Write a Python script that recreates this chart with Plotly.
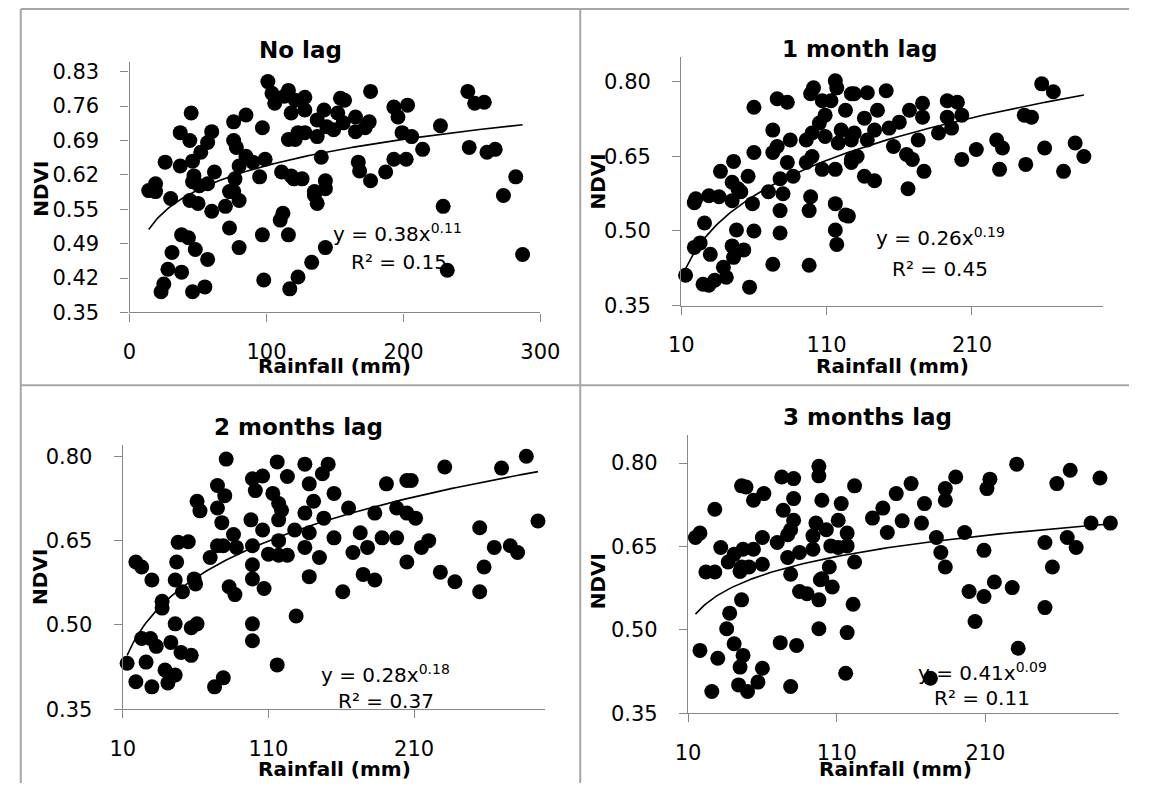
import numpy as np
import plotly.graph_objects as go

W, H = 1149, 795

# ---------------- data: rainfall (mm) vs NDVI ----------------
x_lag0 = [101, 45, 85, 76, 37, 44, 60, 57, 52, 26, 37, 46, 76, 78, 97, 106, 104, 116, 118, 116,
          123, 19, 14, 47, 46, 62, 57, 77, 73, 85, 90, 99, 111, 120, 95, 80, 19, 30, 44, 50,
          51, 60, 70, 76, 80, 73, 80, 97, 112, 110, 116, 38, 43, 31, 48, 57, 28, 38, 25, 23,
          46, 55, 98, 117, 123, 176, 247, 252, 259, 227, 193, 203, 196, 199, 206, 214, 248, 261, 267, 282,
          273, 193, 202, 187, 167, 168, 176, 140, 143, 135, 154, 157, 142, 165, 175, 172, 165, 156, 144, 137,
          128, 121, 113, 128, 121, 128, 137, 149, 152, 118, 126, 229, 287, 232, 143, 133, 137, 135, 143]
y_lag0 = [0.820, 0.756, 0.752, 0.738, 0.716, 0.700, 0.718, 0.696, 0.676, 0.656, 0.648, 0.658, 0.700, 0.686, 0.726, 0.776, 0.796, 0.802, 0.756, 0.702,
          0.716, 0.612, 0.598, 0.628, 0.616, 0.636, 0.612, 0.622, 0.596, 0.668, 0.656, 0.662, 0.636, 0.622, 0.626, 0.648, 0.596, 0.582, 0.578, 0.572,
          0.608, 0.556, 0.566, 0.596, 0.578, 0.522, 0.482, 0.508, 0.552, 0.538, 0.508, 0.508, 0.502, 0.472, 0.478, 0.458, 0.438, 0.432, 0.408, 0.392,
          0.392, 0.402, 0.416, 0.398, 0.422, 0.800, 0.800, 0.776, 0.778, 0.730, 0.768, 0.772, 0.748, 0.716, 0.708, 0.682, 0.686, 0.676, 0.682, 0.626,
          0.588, 0.662, 0.662, 0.636, 0.656, 0.638, 0.618, 0.666, 0.618, 0.596, 0.786, 0.782, 0.762, 0.748, 0.738, 0.726, 0.718, 0.736, 0.728, 0.742,
          0.762, 0.782, 0.790, 0.788, 0.702, 0.716, 0.708, 0.722, 0.756, 0.628, 0.622, 0.566, 0.468, 0.436, 0.482, 0.452, 0.572, 0.588, 0.602]

x_lag1 = [116, 101, 99, 107, 113, 117, 127, 123, 76, 83, 60, 109, 105, 73, 76, 85, 96, 100, 109, 120,
          118, 127, 60, 46, 37, 56, 45, 49, 73, 83, 87, 78, 100, 96, 107, 116, 127, 20, 29, 36,
          19, 45, 51, 59, 70, 80, 78, 99, 98, 116, 123, 26, 48, 60, 78, 116, 117, 19, 23, 30,
          45, 53, 46, 39, 41, 13, 25, 29, 33, 57, 73, 98, 258, 266, 246, 251, 227, 231, 213, 203,
          229, 247, 260, 273, 281, 287, 193, 200, 203, 193, 196, 187, 176, 167, 176, 173, 160, 153, 156, 165,
          169, 177, 166, 151, 138, 129, 145, 136, 143, 129, 138, 131, 136, 143, 127, 125]
y_lag1 = [0.802, 0.788, 0.776, 0.762, 0.762, 0.788, 0.776, 0.743, 0.766, 0.759, 0.749, 0.733, 0.717, 0.703, 0.670, 0.683, 0.683, 0.697, 0.690, 0.703,
          0.677, 0.683, 0.658, 0.640, 0.620, 0.610, 0.598, 0.585, 0.658, 0.638, 0.610, 0.605, 0.650, 0.638, 0.624, 0.624, 0.638, 0.565, 0.571, 0.569,
          0.557, 0.561, 0.579, 0.555, 0.579, 0.575, 0.541, 0.569, 0.541, 0.555, 0.532, 0.516, 0.502, 0.500, 0.496, 0.502, 0.473, 0.467, 0.476, 0.453,
          0.470, 0.462, 0.447, 0.427, 0.407, 0.411, 0.393, 0.391, 0.401, 0.387, 0.433, 0.431, 0.796, 0.780, 0.733, 0.729, 0.683, 0.667, 0.664, 0.644,
          0.624, 0.634, 0.667, 0.620, 0.677, 0.650, 0.762, 0.759, 0.733, 0.729, 0.707, 0.697, 0.757, 0.743, 0.729, 0.683, 0.719, 0.707, 0.670, 0.654,
          0.644, 0.620, 0.585, 0.782, 0.778, 0.776, 0.743, 0.727, 0.703, 0.697, 0.683, 0.650, 0.610, 0.601, 0.644, 0.530]

x_lag2 = [81, 116, 99, 106, 101, 75, 80, 61, 63, 75, 78, 86, 98, 106, 117, 117, 123, 113, 119, 128,
          117, 48, 55, 47, 75, 79, 70, 88, 99, 99, 110, 117, 123, 19, 23, 30, 46, 59, 51, 60,
          37, 37, 83, 87, 99, 107, 46, 57, 61, 99, 99, 129, 23, 29, 33, 43, 50, 57, 13, 26,
          39, 46, 19, 30, 41, 73, 79, 116, 135, 147, 151, 138, 141, 155, 135, 148, 165, 138, 155, 135,
          145, 168, 138, 161, 173, 178, 183, 175, 183, 188, 191, 205, 208, 198, 205, 198, 211, 205, 215, 220,
          231, 228, 238, 255, 258, 255, 265, 270, 276, 281, 287, 295]
y_lag2 = [0.795, 0.790, 0.760, 0.765, 0.739, 0.748, 0.730, 0.720, 0.703, 0.708, 0.682, 0.661, 0.687, 0.669, 0.687, 0.716, 0.764, 0.734, 0.704, 0.669,
          0.650, 0.647, 0.648, 0.612, 0.641, 0.641, 0.620, 0.638, 0.641, 0.607, 0.626, 0.624, 0.624, 0.612, 0.603, 0.580, 0.580, 0.582, 0.559, 0.573,
          0.542, 0.530, 0.568, 0.554, 0.582, 0.565, 0.502, 0.495, 0.502, 0.502, 0.472, 0.516, 0.476, 0.476, 0.462, 0.469, 0.451, 0.446, 0.432, 0.434,
          0.420, 0.411, 0.399, 0.390, 0.397, 0.390, 0.406, 0.429, 0.786, 0.769, 0.786, 0.751, 0.720, 0.734, 0.699, 0.690, 0.708, 0.664, 0.655, 0.638,
          0.620, 0.629, 0.586, 0.559, 0.664, 0.638, 0.699, 0.590, 0.580, 0.655, 0.751, 0.757, 0.757, 0.708, 0.699, 0.655, 0.690, 0.612, 0.638, 0.650,
          0.781, 0.594, 0.577, 0.673, 0.603, 0.559, 0.638, 0.779, 0.641, 0.629, 0.800, 0.685]

x_lag3 = [98, 98, 73, 81, 46, 49, 61, 54, 81, 28, 74, 100, 122, 113, 81, 79, 96, 94, 103, 111,
          117, 15, 18, 32, 60, 70, 77, 47, 41, 54, 60, 37, 46, 51, 85, 77, 94, 106, 111, 117,
          122, 22, 28, 79, 100, 105, 45, 85, 90, 98, 99, 107, 121, 46, 38, 36, 41, 47, 45, 60,
          57, 44, 50, 26, 18, 30, 72, 83, 79, 98, 117, 116, 231, 267, 258, 287, 213, 211, 190, 183,
          183, 169, 160, 150, 141, 134, 144, 154, 167, 177, 180, 183, 196, 209, 216, 209, 199, 203, 228, 232,
          173, 250, 255, 265, 271, 281, 294, 250]
y_lag3 = [0.794, 0.777, 0.775, 0.772, 0.759, 0.757, 0.745, 0.733, 0.736, 0.717, 0.715, 0.733, 0.759, 0.727, 0.697, 0.680, 0.692, 0.669, 0.680, 0.697,
          0.674, 0.666, 0.674, 0.648, 0.666, 0.657, 0.671, 0.645, 0.636, 0.645, 0.618, 0.622, 0.613, 0.613, 0.639, 0.630, 0.645, 0.651, 0.648, 0.651,
          0.622, 0.604, 0.604, 0.600, 0.592, 0.613, 0.605, 0.569, 0.565, 0.554, 0.590, 0.577, 0.546, 0.554, 0.530, 0.502, 0.475, 0.454, 0.433, 0.431,
          0.406, 0.401, 0.389, 0.389, 0.463, 0.449, 0.477, 0.472, 0.398, 0.502, 0.495, 0.422, 0.798, 0.787, 0.763, 0.773, 0.771, 0.754, 0.775, 0.754,
          0.733, 0.727, 0.763, 0.745, 0.719, 0.701, 0.675, 0.696, 0.692, 0.666, 0.639, 0.613, 0.675, 0.643, 0.586, 0.560, 0.569, 0.515, 0.576, 0.467,
          0.413, 0.657, 0.613, 0.666, 0.648, 0.692, 0.692, 0.540]

# power trend y = a * x^b for each panel
trend_a = [0.384, 0.258, 0.284, 0.414]
trend_b = [0.114, 0.194, 0.176, 0.090]
r_squared = [0.15, 0.45, 0.37, 0.11]

titles = ["No lag", "1 month lag", "2 months lag", "3 months lag"]

y_ticktext = [
    ["0.35", "0.42", "0.49", "0.55", "0.62", "0.69", "0.76", "0.83"],
    ["0.35", "0.50", "0.65", "0.80"],
    ["0.35", "0.50", "0.65", "0.80"],
    ["0.35", "0.50", "0.65", "0.80"],
]
y_tickvals = [
    [0.35, 0.42, 0.49, 0.56, 0.63, 0.70, 0.77, 0.84],
    [0.35, 0.50, 0.65, 0.80],
    [0.35, 0.50, 0.65, 0.80],
    [0.35, 0.50, 0.65, 0.80],
]
x_ticks = [[0, 100, 200, 300], [10, 110, 210], [10, 110, 210], [10, 110, 210]]
x_ranges = [[0, 300], [10, 300], [10, 300], [10, 300]]
y_ranges = [[0.35, 0.86], [0.35, 0.85], [0.35, 0.82], [0.35, 0.85]]

# ---------------- layout geometry (pixels) ----------------
# plot box: left, right, top, bottom
boxes = [
    (120, 543, 61, 316),
    (688, 1122, 56, 309),
    (113, 548, 451, 720),
    (695, 1139, 441, 724),
]
title_pos = [(296, 49), (872, 48), (294, 433), (880, 422)]
xtitle_pos = [(331, 371), (905, 371), (331, 781), (909, 781)]
ytitle_pos = [(28, 190), (602, 183), (27, 585), (602, 590)]
eq_pos = [(396, 235), (955, 239), (384, 684), (998, 682)]
r2_pos = [(397, 265), (954, 272), (384, 712), (998, 708)]

FONT = "DejaVu Sans"
AXIS_GREY = "#868686"
BORDER_GREY = "#a6a6a6"


def px(xp):
    return xp / W


def py(yp):
    return 1 - yp / H


series = [(x_lag0, y_lag0), (x_lag1, y_lag1), (x_lag2, y_lag2), (x_lag3, y_lag3)]

fig = go.Figure()
annotations = []
layout_axes = {}


def note(text, pos, size, bold=False, angle=0):
    annotations.append(dict(
        text=f"<b>{text}</b>" if bold else text,
        x=px(pos[0]), y=py(pos[1]), xref="paper", yref="paper",
        xanchor="center", yanchor="middle", showarrow=False, textangle=angle,
        font=dict(family=FONT, size=size, color="black")))


for i, (xs, ys) in enumerate(series):
    n = "" if i == 0 else str(i + 1)
    xa, ya = "x" + n, "y" + n
    fig.add_trace(go.Scatter(
        x=xs, y=ys, mode="markers", xaxis=xa, yaxis=ya,
        marker=dict(color="black", size=15, line=dict(width=0)),
        cliponaxis=False, showlegend=False, hoverinfo="x+y"))

    xt = np.linspace(min(xs), max(xs), 200)
    yt = trend_a[i] * xt ** trend_b[i]
    fig.add_trace(go.Scatter(
        x=xt, y=yt, mode="lines", xaxis=xa, yaxis=ya,
        line=dict(color="black", width=1.6),
        cliponaxis=False, showlegend=False, hoverinfo="skip"))

    l, r, t, b = boxes[i]
    common = dict(showline=True, linecolor=AXIS_GREY, linewidth=1.3,
                  ticks="outside", ticklen=8, tickcolor=AXIS_GREY, tickwidth=1.3,
                  showgrid=False, zeroline=False,
                  tickfont=dict(family=FONT, size=21, color="black"))
    layout_axes["xaxis" + n] = dict(
        common, domain=[px(l), px(r)], range=x_ranges[i], anchor=ya,
        tickmode="array", tickvals=x_ticks[i], ticktext=[str(v) for v in x_ticks[i]],
        ticklabelstandoff=12)
    layout_axes["yaxis" + n] = dict(
        common, domain=[py(b), py(t)], range=y_ranges[i], anchor=xa,
        tickmode="array", tickvals=y_tickvals[i], ticktext=y_ticktext[i],
        ticklabelstandoff=17)

    note(titles[i], title_pos[i], 23, bold=True)
    note("Rainfall (mm)", xtitle_pos[i], 20, bold=True)
    note("NDVI", ytitle_pos[i], 20, bold=True, angle=-90)
    note(f"y = {trend_a[i]:.2f}x<sup>{trend_b[i]:.2f}</sup>", eq_pos[i], 20)
    note(f"R² = {r_squared[i]:.2f}", r2_pos[i], 20)

# cell borders around the four panels
border_lines = [
    (8, 7, W, 7),
    (8, 7, 8, H),
    (584, 7, 584, H),
    (8, 390, W, 390),
]
shapes = [dict(type="line", xref="paper", yref="paper",
               x0=px(a), y0=py(b), x1=px(c), y1=py(d),
               line=dict(color=BORDER_GREY, width=2)) for a, b, c, d in border_lines]

fig.update_layout(
    width=W, height=H,
    margin=dict(l=0, r=0, t=0, b=0),
    paper_bgcolor="white", plot_bgcolor="white",
    annotations=annotations, shapes=shapes,
    **layout_axes)

fig.write_html("out.html")
